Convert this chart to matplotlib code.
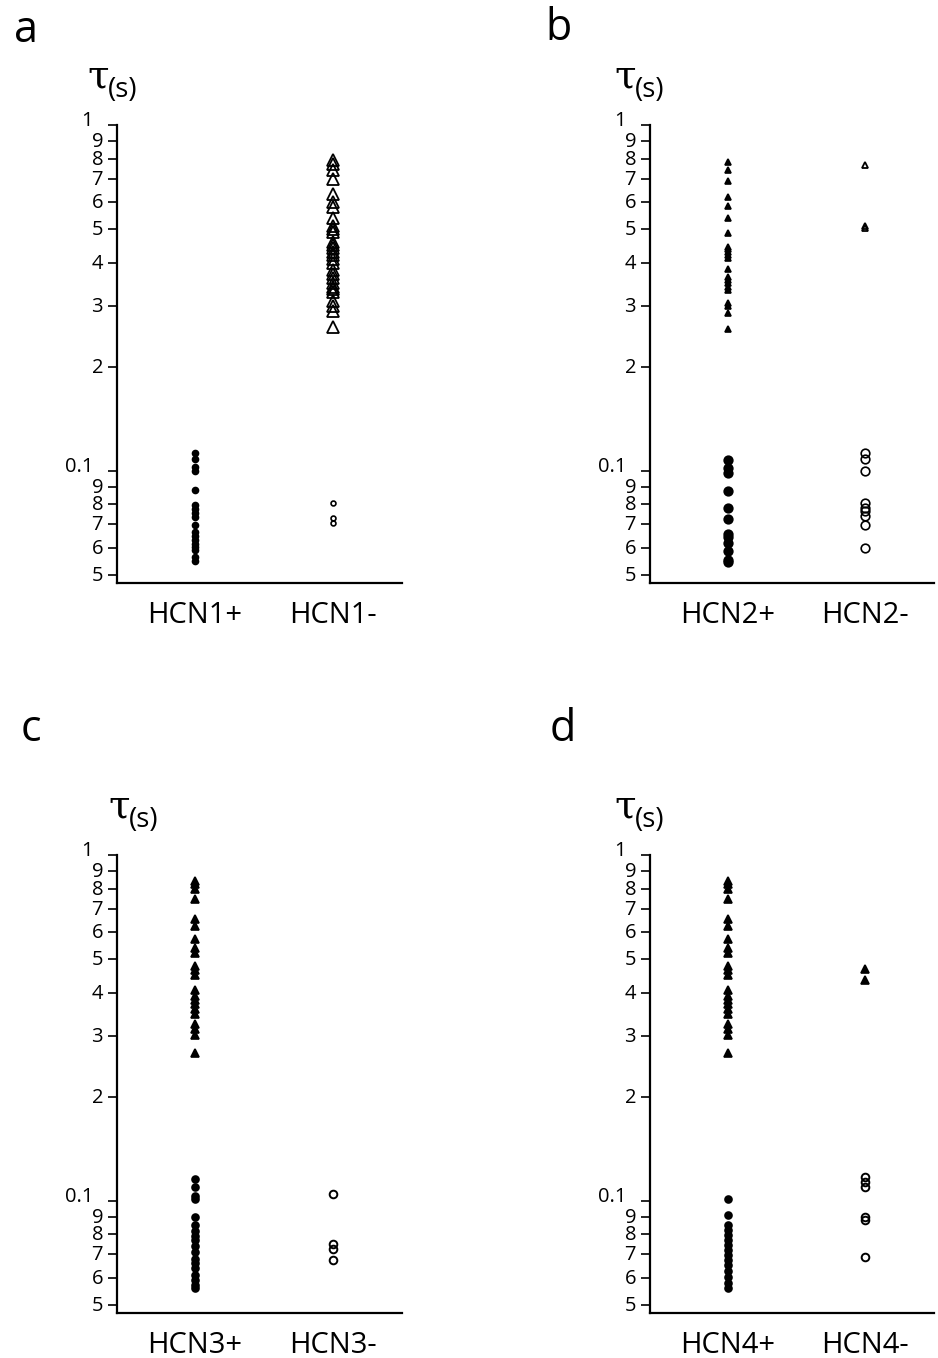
import numpy as np
import matplotlib
matplotlib.use('Agg')
import matplotlib.pyplot as plt
from matplotlib.transforms import ScaledTranslation

# ---------------- data (tau in seconds) ----------------
tick_values = [0.05, 0.06, 0.07, 0.08, 0.09, 0.1, 0.2, 0.3, 0.4, 0.5, 0.6, 0.7, 0.8, 0.9, 1.0]
tick_labels = ['5', '6', '7', '8', '9', '0.1', '2', '3', '4', '5', '6', '7', '8', '9', '1']

cats_a = ['HCN1+', 'HCN1-']
cats_b = ['HCN2+', 'HCN2-']
cats_c = ['HCN3+', 'HCN3-']
cats_d = ['HCN4+', 'HCN4-']

# panel a
hcn1_pos_fast = [0.113, 0.108, 0.1025, 0.0998, 0.0879, 0.0796, 0.0775, 0.0754, 0.0734,
                 0.0697, 0.0665, 0.0647, 0.0630, 0.0614, 0.0602, 0.0590, 0.0563, 0.0548]
hcn1_neg_slow = [0.79, 0.77, 0.74, 0.70, 0.63, 0.60, 0.58, 0.54, 0.51, 0.50, 0.49, 0.46,
                 0.45, 0.44, 0.43, 0.42, 0.41, 0.40, 0.38, 0.37, 0.36, 0.35, 0.34, 0.335,
                 0.33, 0.31, 0.30, 0.29, 0.26]
hcn1_neg_fast = [0.081, 0.073, 0.0705]

# panel b
hcn2_pos_slow = [0.781, 0.741, 0.689, 0.619, 0.583, 0.538, 0.487, 0.444, 0.438, 0.429,
                 0.421, 0.412, 0.383, 0.363, 0.356, 0.349, 0.340, 0.333, 0.3055, 0.300,
                 0.286, 0.257]
hcn2_pos_fast = [0.1074, 0.1016, 0.0987, 0.0876, 0.0781, 0.0724, 0.0656, 0.0642, 0.0617,
                 0.0587, 0.0554, 0.0546]
hcn2_neg_slow = [0.766, 0.510, 0.504]
hcn2_neg_fast = [0.1127, 0.1081, 0.0998, 0.0808, 0.0781, 0.0766, 0.0739, 0.0697, 0.0597]

# panel c
hcn3_pos_slow = [0.843, 0.825, 0.796, 0.745, 0.653, 0.624, 0.571, 0.538, 0.521, 0.479,
                 0.466, 0.451, 0.408, 0.392, 0.382, 0.370, 0.358, 0.348, 0.324, 0.313,
                 0.301, 0.268]
hcn3_pos_fast = [0.116, 0.110, 0.103, 0.101, 0.090, 0.085, 0.082, 0.079, 0.077, 0.074,
                 0.071, 0.068, 0.066, 0.064, 0.061, 0.059, 0.057, 0.056]
hcn3_neg_fast = [0.1047, 0.0752, 0.0727, 0.0675]

# panel d
hcn4_pos_slow = [0.843, 0.825, 0.796, 0.745, 0.653, 0.624, 0.571, 0.538, 0.521, 0.479,
                 0.466, 0.451, 0.408, 0.392, 0.382, 0.370, 0.358, 0.348, 0.324, 0.313,
                 0.301, 0.268]
hcn4_pos_fast = [0.1013, 0.0911, 0.0853, 0.0825, 0.0798, 0.0772, 0.0747, 0.0722, 0.0698,
                 0.0676, 0.0654, 0.0628, 0.0604, 0.0580, 0.0561]
hcn4_neg_slow = [0.468, 0.436]
hcn4_neg_fast = [0.117, 0.1132, 0.1095, 0.0898, 0.0878, 0.069]

# ---------------- figure ----------------
W, H = 938, 1358
fig = plt.figure(figsize=(W / 100, H / 100), dpi=100)
FONT = ['Open Sans', 'DejaVu Sans']


def px_axes(left, top, right, bottom):
    return fig.add_axes([left / W, 1 - bottom / H, (right - left) / W, (bottom - top) / H])


def style_axes(ax, cats):
    ax.set_yscale('log')
    ax.set_ylim(0.0474, 1.0)
    ax.set_xlim(0.434, 2.5)
    for s in ('top', 'right'):
        ax.spines[s].set_visible(False)
    for s in ('left', 'bottom'):
        ax.spines[s].set_linewidth(1.6)
    ax.yaxis.set_minor_locator(matplotlib.ticker.NullLocator())
    ax.set_yticks(tick_values)
    ax.set_yticklabels([])
    ax.tick_params(axis='y', which='major', length=6.5, width=1.2, direction='out')
    ax.set_xticks([1, 2])
    ax.set_xticklabels(cats, fontsize=21, family=FONT)
    ax.tick_params(axis='x', length=0, pad=13)
    base = ax.get_yaxis_transform()
    for v, lab in zip(tick_values, tick_labels):
        if lab in ('1', '0.1'):
            tr = base + ScaledTranslation(-24 / 100, -1 / 100, fig.dpi_scale_trans)
            ax.text(0, v, lab, ha='right', va='baseline', fontsize=14.5, family=FONT,
                    transform=tr)
        else:
            tr = base + ScaledTranslation(-14 / 100, -1 / 100, fig.dpi_scale_trans)
            ax.text(0, v, lab, ha='right', va='center', fontsize=14.5, family=FONT,
                    transform=tr)


def tau_label(x_px, tick1_y):
    fig.text(x_px / W, 1 - (tick1_y - 38) / H, 'τ', fontsize=28, family='DejaVu Serif',
             ha='left', va='baseline')
    fig.text((x_px + 21) / W, 1 - (tick1_y - 28) / H, '(s)', fontsize=20, family=FONT,
             ha='left', va='baseline')


def col(ax, xpos, vals, marker, ms, filled=True, mew=1.2):
    ax.plot(np.full(len(vals), xpos), vals, ls='none', marker=marker, ms=ms,
            mfc='black' if filled else 'none', mec='black', mew=mew, clip_on=False)


# panel a
ax_a = px_axes(117, 125, 402, 583)
style_axes(ax_a, cats_a)
col(ax_a, 1, hcn1_pos_fast, 'o', 4.3)
col(ax_a, 2, hcn1_neg_slow, '^', 8.0, filled=False, mew=1.3)
col(ax_a, 2, hcn1_neg_fast, 'o', 3.5, filled=False, mew=1.2)
tau_label(87, 125)
fig.text(14 / W, 1 - 42 / H, 'a', fontsize=31, family=FONT, ha='left', va='baseline')

# panel b
ax_b = px_axes(650, 125, 934, 583)
style_axes(ax_b, cats_b)
col(ax_b, 1, hcn2_pos_slow, '^', 5.0)
col(ax_b, 1, hcn2_pos_fast, 'o', 6.2)
col(ax_b, 2, hcn2_neg_slow, '^', 5.0, filled=False, mew=1.3)
col(ax_b, 2, hcn2_neg_fast, 'o', 6.2, filled=False, mew=1.2)
tau_label(614, 125)
fig.text(545 / W, 1 - 40 / H, 'b', fontsize=31, family=FONT, ha='left', va='baseline')

# panel c
ax_c = px_axes(117, 855, 402, 1313)
style_axes(ax_c, cats_c)
col(ax_c, 1, hcn3_pos_slow, '^', 5.5)
col(ax_c, 1, hcn3_pos_fast, 'o', 5.0)
col(ax_c, 2, hcn3_neg_fast, 'o', 5.5, filled=False, mew=1.4)
tau_label(108, 855)
fig.text(21 / W, 1 - 741 / H, 'c', fontsize=31, family=FONT, ha='left', va='baseline')

# panel d
ax_d = px_axes(650, 855, 934, 1313)
style_axes(ax_d, cats_d)
col(ax_d, 1, hcn4_pos_slow, '^', 5.5)
col(ax_d, 1, hcn4_pos_fast, 'o', 5.0)
col(ax_d, 2, hcn4_neg_slow, '^', 5.5)
col(ax_d, 2, hcn4_neg_fast, 'o', 5.5, filled=False, mew=1.4)
tau_label(614, 855)
fig.text(550 / W, 1 - 741 / H, 'd', fontsize=31, family=FONT, ha='left', va='baseline')

fig.savefig('out.png', dpi=100)
